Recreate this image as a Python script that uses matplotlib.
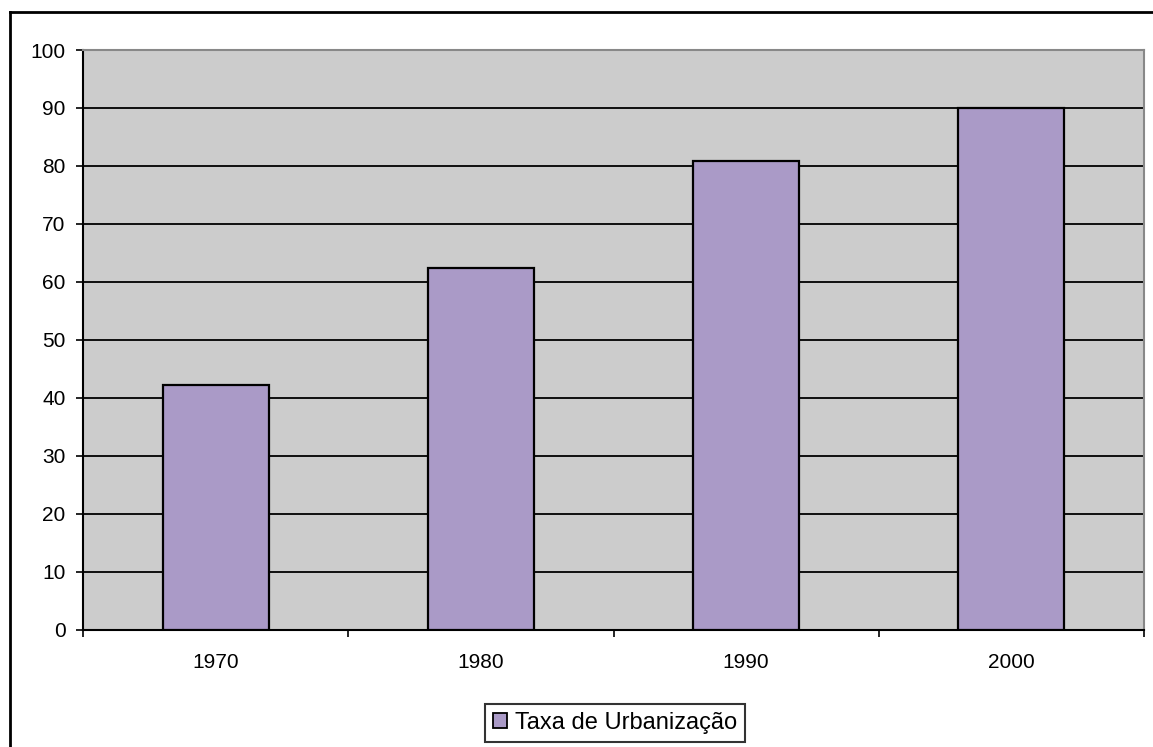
import numpy as np
import matplotlib
matplotlib.use('Agg')
import matplotlib.pyplot as plt
from matplotlib.lines import Line2D
from matplotlib.patches import Rectangle

plt.rcParams['font.family'] = ['Liberation Sans', 'DejaVu Sans']

years = ['1970', '1980', '1990', '2000']
taxa = [42.2, 62.4, 80.8, 90.0]
series_name = 'Taxa de Urbanização'

bar_color = '#AA9AC7'
bg_color = '#CCCCCC'

fig = plt.figure(figsize=(11.53, 7.47), dpi=100)
ax = fig.add_axes([83 / 1153, 1 - 629.5 / 747, (1144 - 83) / 1153, (629.5 - 50) / 747])
ax.set_facecolor(bg_color)

x = np.arange(len(years))
ax.bar(x, taxa, width=0.4, color=bar_color, edgecolor='black', linewidth=1.6, zorder=3,
       label=series_name)

ax.set_xlim(-0.5, len(years) - 0.5)
ax.set_ylim(0, 100)
ax.set_yticks(np.arange(0, 101, 10))
ax.yaxis.grid(True, color='black', linewidth=1.3, zorder=1)
ax.set_axisbelow(True)

ax.set_xticks(x)
ax.set_xticklabels(years)
ax.set_xticks(np.arange(-0.5, len(years)), minor=True)
ax.tick_params(axis='x', which='major', length=0, pad=17, labelsize=15)
ax.tick_params(axis='x', which='minor', length=5, width=1.2, direction='out')
ax.tick_params(axis='y', length=5, width=1.2, pad=7.5, labelsize=15)

for s in ['top', 'right']:
    ax.spines[s].set_color('#888888')
    ax.spines[s].set_linewidth(1.5)
for s in ['left', 'bottom']:
    ax.spines[s].set_color('black')
    ax.spines[s].set_linewidth(1.5)

# outer chart border (runs past the right and bottom edges)
fig.add_artist(Line2D([10.5 / 1153, 10.5 / 1153], [1 - 12 / 747, -0.05], color='black', linewidth=2))
fig.add_artist(Line2D([10 / 1153, 1.05], [1 - 12 / 747, 1 - 12 / 747], color='black', linewidth=2))

handle = Rectangle((0, 0), 1, 1, facecolor=bar_color, edgecolor='black', linewidth=1.3)
leg = fig.legend([handle], [series_name], loc='center', bbox_to_anchor=(615 / 1153, 1 - 723 / 747),
                 fontsize=17, frameon=True, fancybox=False, edgecolor='black',
                 handlelength=0.6, handleheight=0.6, handletextpad=0.3, borderpad=0.35,
                 borderaxespad=0)
leg.get_frame().set_linewidth(1.5)

fig.savefig('out.png', dpi=100)
